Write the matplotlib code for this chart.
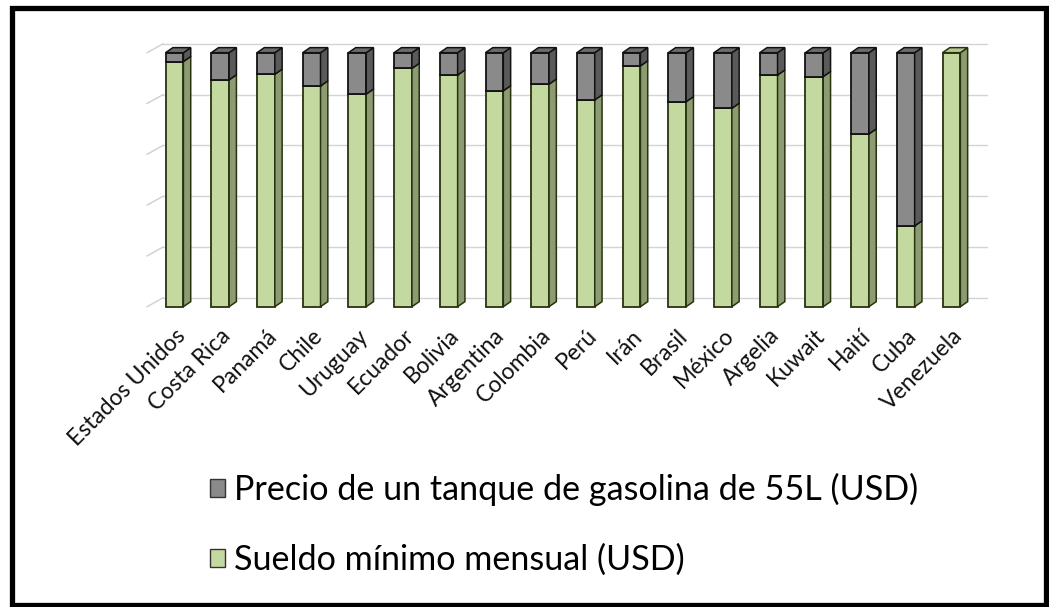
import matplotlib.pyplot as plt
from matplotlib.patches import Polygon, Patch, Rectangle

# Datos (porcentaje del total de cada barra)
paises = ['Estados Unidos', 'Costa Rica', 'Panamá', 'Chile', 'Uruguay', 'Ecuador',
          'Bolivia', 'Argentina', 'Colombia', 'Perú', 'Irán', 'Brasil', 'México',
          'Argelia', 'Kuwait', 'Haití', 'Cuba', 'Venezuela']
sueldo_pct = [96.5, 89.3, 91.5, 86.9, 83.7, 93.8, 91.2, 85.0, 87.6,
              81.4, 94.8, 80.7, 78.1, 91.2, 90.6, 68.0, 31.8, 100.0]
gasolina_pct = [3.5, 10.7, 8.5, 13.1, 16.3, 6.2, 8.8, 15.0, 12.4,
                18.6, 5.2, 19.3, 21.9, 8.8, 9.4, 32.0, 68.2, 0.0]
etiquetas = ['Precio de un tanque de gasolina de 55L (USD)', 'Sueldo mínimo mensual (USD)']

plt.rcParams['font.family'] = ['Lato', 'DejaVu Sans']

W, H = 1049, 607
fig = plt.figure(figsize=(W / 100, H / 100), dpi=100)
ax = fig.add_axes([128.8 / W, 287.6 / H, (1001.7 - 128.8) / W, (567 - 287.6) / H])
ax.set_xlim(-1, 18.1)
ax.set_ylim(-5, 105)

# pared del fondo (efecto 3D)
gdx, gdy = 0.35, 3.5
for v in range(0, 101, 20):
    ax.plot([-0.25, 17.78], [v + gdy, v + gdy], color='#d4d4d4', lw=1, zorder=0)
    ax.plot([-0.6, -0.25], [v, v + gdy], color='#cfcfcf', lw=1, zorder=0)

w, dx, dy = 0.39, 0.16, 2.0
verde = ('#c4d9a0', '#8d9b72', '#b5c98f', '#27330f')
gris = ('#8a8a8a', '#5a5a5a', '#6b6b6b', '#111111')

for i in range(len(paises)):
    segs = [(0, sueldo_pct[i], verde), (sueldo_pct[i], sueldo_pct[i] + gasolina_pct[i], gris)]
    segs = [s for s in segs if s[1] - s[0] > 0]
    for k, (b, t, col) in enumerate(segs):
        ax.bar(i, t - b, bottom=b, width=w, color=col[0], edgecolor=col[3], lw=1.3, zorder=2)
        xr = i + w / 2
        ax.add_patch(Polygon([(xr, b), (xr + dx, b + dy), (xr + dx, t + dy), (xr, t)],
                             closed=True, fc=col[1], ec=col[3], lw=1.1, zorder=2))
        if k == len(segs) - 1:
            xl = i - w / 2
            ax.add_patch(Polygon([(xl, t), (xl + dx, t + dy), (xr + dx, t + dy), (xr, t)],
                                 closed=True, fc=col[2], ec=col[3], lw=1.1, zorder=2))

ax.set_xticks(range(len(paises)))
ax.set_xticklabels(paises, rotation=45, ha='right', va='top', rotation_mode='anchor',
                   fontsize=16.5, color='#111111')
ax.tick_params(axis='x', length=0, pad=4)
ax.set_yticks([])
for s in ax.spines.values():
    s.set_visible(False)

handles = [Patch(fc=gris[0], ec='#333333', lw=1), Patch(fc=verde[0], ec='#333333', lw=1)]
fig.legend(handles, etiquetas, loc='upper left', bbox_to_anchor=(210 / W, 1 - 473 / H),
           frameon=False, fontsize=24.6, handlelength=0.45, handleheight=0.45,
           handletextpad=0.25, labelspacing=1.1, borderpad=0, borderaxespad=0)

# marco negro
fig.patches.append(Rectangle((11.5 / W, 2.5 / H), (1046 - 11.5) / W, (599 - 2.5) / H,
                             transform=fig.transFigure, fill=False, ec='black', lw=3.8))

fig.savefig('out.png', dpi=100)
